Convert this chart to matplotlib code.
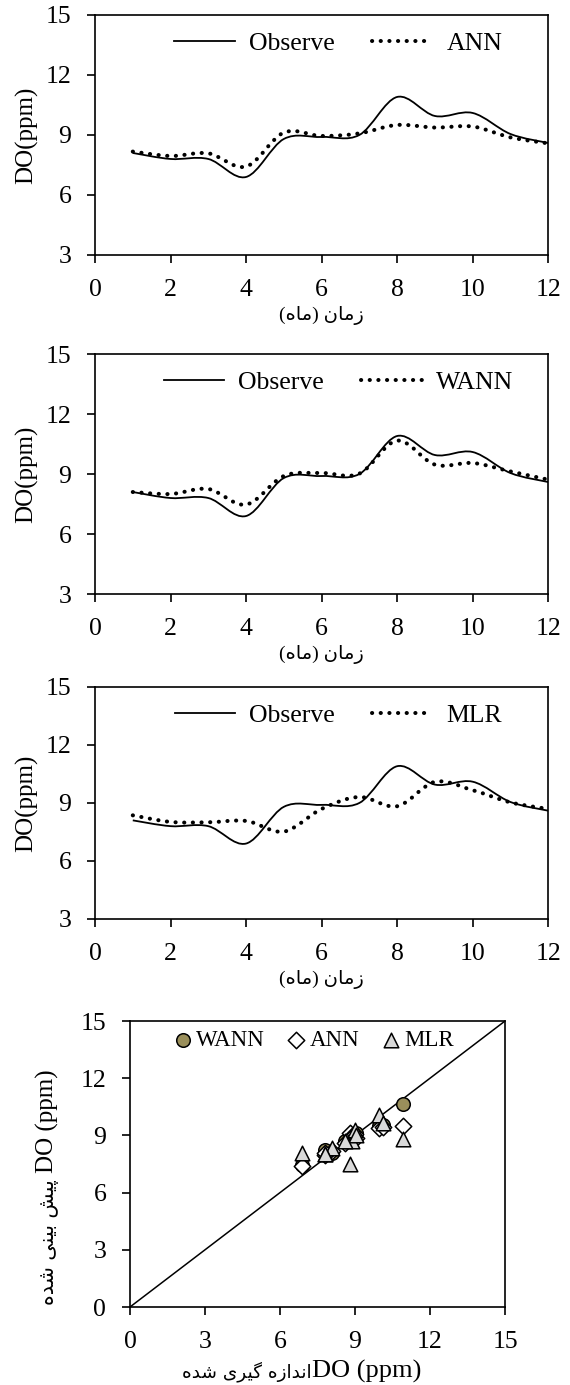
import matplotlib
matplotlib.use('Agg')
import matplotlib.pyplot as plt
from matplotlib.path import Path
from matplotlib.patches import PathPatch
from matplotlib.lines import Line2D
import numpy as np

plt.rcParams['font.family'] = ['Liberation Serif', 'DejaVu Sans']

months = [1, 2, 3, 4, 5, 6, 7, 8, 9, 10, 11, 12]
observe = [8.1, 7.8, 7.8, 6.9, 8.8, 8.9, 9.0, 10.9, 9.95, 10.1, 9.05, 8.6]
ann = [8.17, 7.95, 8.08, 7.42, 9.12, 8.95, 9.08, 9.5, 9.37, 9.42, 8.88, 8.58]
wann = [8.1, 8.0, 8.25, 7.47, 8.9, 9.05, 9.02, 10.67, 9.47, 9.55, 9.13, 8.72]
mlr = [8.36, 8.02, 8.0, 8.07, 7.52, 8.69, 9.31, 8.83, 10.09, 9.66, 9.03, 8.69]

# persian text in visual order with presentation forms (no shaping in mpl)
xlab_time = "(\uFEE9\uFE8E\uFEE3) \uFEE5\uFE8E\uFEE3\uFEAF"
shodeh = "\uFEE9\uFEAA\uFEB7"
xlab_fa = shodeh + " \uFBFC\uFEAE\uFEF4\uFB94 \uFEE9\uFEAF\uFE8D\uFEAA\uFEE7\uFE8D"
ylab_fa = shodeh + " \uFBFD\uFEE8\uFEF4\uFE91 \uFEB6\uFEF4\uFB58 "


def smooth_path(x, y):
    # excel-like smoothed line as cubic bezier segments
    x = np.asarray(x, float)
    y = np.asarray(y, float)
    px = np.concatenate([[x[0]], x, [x[-1]]])
    py = np.concatenate([[y[0]], y, [y[-1]]])
    verts = [(x[0], y[0])]
    codes = [Path.MOVETO]
    for i in range(1, len(px) - 2):
        c1 = (px[i] + (px[i+1] - px[i-1]) / 6, py[i] + (py[i+1] - py[i-1]) / 6)
        c2 = (px[i+1] - (px[i+2] - px[i]) / 6, py[i+1] - (py[i+2] - py[i]) / 6)
        verts += [c1, c2, (px[i+1], py[i+1])]
        codes += [Path.CURVE4] * 3
    return Path(verts, codes)


def style_axes(ax):
    for s in ax.spines.values():
        s.set_linewidth(1.2)
    ax.tick_params(direction='out', length=6, width=1.2, labelsize=18.5)
    ax.tick_params(axis='x', pad=11)
    ax.tick_params(axis='y', pad=11)


def line_panel(rect, model, label):
    ax = fig.add_axes(rect)
    p1 = PathPatch(smooth_path(months, observe), fill=False, color='black', lw=1.3)
    ax.add_patch(p1)
    p2 = PathPatch(smooth_path(months, model), fill=False, color='black', lw=2.9,
                   linestyle=(0, (0.05, 2.1)), capstyle='round')
    ax.add_patch(p2)
    ax.set_xlim(0, 12)
    ax.set_ylim(3, 15)
    ax.set_xticks(range(0, 13, 2))
    ax.set_yticks(range(3, 16, 3))
    style_axes(ax)
    ax.set_ylabel('DO(ppm)', fontsize=18, labelpad=5)
    ax.set_xlabel(xlab_time, fontsize=14, labelpad=4)
    h1 = Line2D([], [], color='black', lw=1.3)
    h2 = Line2D([], [], color='black', lw=2.9, linestyle=(0, (0.05, 2.1)),
                dash_capstyle='round')
    ax.legend([h1, h2], ['Observe', label], loc='upper center',
              bbox_to_anchor=(0.537, 1.025), ncol=2, frameon=False, fontsize=18.5,
              handlelength=2.35, columnspacing=1.45, handletextpad=0.55)
    return ax


fig = plt.figure(figsize=(5.7, 13.85), dpi=100)

line_panel([0.1667, 0.8159, 0.795, 0.1733], ann, 'ANN')
line_panel([0.1667, 0.5711, 0.795, 0.1733], wann, 'WANN')
line_panel([0.1667, 0.3365, 0.795, 0.1675], mlr, 'MLR')

ax = fig.add_axes([0.228, 0.0563, 0.658, 0.2065])
ax.plot([0, 15], [0, 15], color='black', lw=1.1)
ax.scatter(observe, wann, marker='o', s=95, facecolor='#9A8F5B',
           edgecolor='black', linewidth=1.1, label='WANN', zorder=3)
ax.scatter(observe, ann, marker='D', s=70, facecolor='white',
           edgecolor='black', linewidth=1.1, label='ANN', zorder=3)
ax.scatter(observe, mlr, marker='^', s=110, facecolor='#D9D9D9',
           edgecolor='black', linewidth=1.1, label='MLR', zorder=3)
ax.set_xlim(0, 15)
ax.set_ylim(0, 15)
ax.set_xticks(range(0, 16, 3))
ax.set_yticks(range(0, 16, 3))
style_axes(ax)
# x label: persian words on the left, DO (ppm) on the right
ax.text(0.485, -0.245, 'DO (ppm)', transform=ax.transAxes, fontsize=19,
        ha='left', va='baseline')
ax.text(0.485, -0.245, xlab_fa, transform=ax.transAxes, fontsize=13.3,
        ha='right', va='baseline', family='DejaVu Sans')
# y label: persian words below, DO (ppm) above
ax.text(-0.203, 0.4685, 'DO (ppm)', transform=ax.transAxes, fontsize=18,
        rotation=90, rotation_mode='anchor', ha='left', va='baseline')
ax.text(-0.203, 0.4685, ylab_fa, transform=ax.transAxes, fontsize=14.8,
        rotation=90, rotation_mode='anchor', ha='right', va='baseline',
        family='DejaVu Sans')
ax.legend(loc='upper center', bbox_to_anchor=(0.49, 1.04), ncol=3, frameon=False,
          fontsize=16.5, handlelength=0.8, handletextpad=0.2, columnspacing=0.95)

fig.savefig('out.png', dpi=100)
